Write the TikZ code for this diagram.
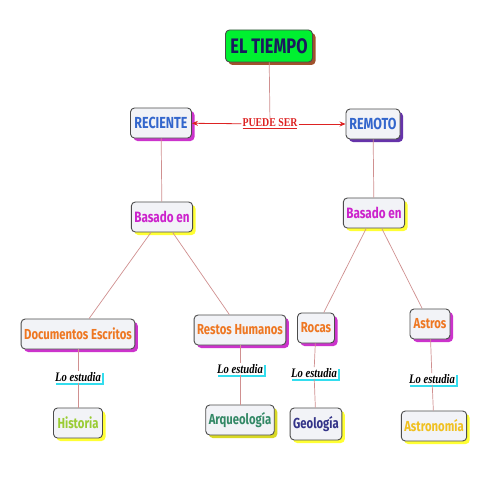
\documentclass[tikz,border=0pt]{standalone}
\usepackage{fontspec}
\setmainfont{Liberation Serif}
\newfontfamily\boxfont{Fira Sans}[FakeStretch=0.78]
\newfontfamily\narrowserif{Liberation Serif}[FakeStretch=0.82]
\usetikzlibrary{shadows,arrows.meta}
\definecolor{conn}{HTML}{D09090}
\definecolor{boxbg}{HTML}{F2F3F7}
\definecolor{tgreen}{HTML}{00F030}
\definecolor{tnavy}{HTML}{1A1A5E}
\definecolor{tblue}{HTML}{3366CC}
\definecolor{tmag}{HTML}{CC22CC}
\definecolor{torange}{HTML}{EE7722}
\definecolor{shmag}{HTML}{CC33CC}
\definecolor{shpur}{HTML}{6633AA}
\definecolor{shyel}{HTML}{FFFF33}
\definecolor{shbrown}{HTML}{A0522D}
\definecolor{thist}{HTML}{99CC33}
\definecolor{tarq}{HTML}{338866}
\definecolor{tgeo}{HTML}{333388}
\definecolor{tast}{HTML}{F0C020}
\definecolor{shcyan}{HTML}{33DDEE}
\definecolor{pred}{HTML}{DD2222}
\tikzset{
  cbox/.style={draw=black!70, line width=0.9pt, rounded corners=4pt, fill=boxbg,
    inner xsep=3pt, minimum height=30pt,
    general shadow={fill=#1, shadow xshift=3pt, shadow yshift=-3pt}},
  bfnt/.style={font=\boxfont\bfseries\fontsize{#1}{#1}\selectfont},
  lbl/.style={fill=white, inner sep=1pt, font=\narrowserif\bfseries\itshape\fontsize{13}{13}\selectfont,
    general shadow={fill=shcyan, shadow xshift=2pt, shadow yshift=-2pt}},
  conline/.style={draw=conn, line width=0.7pt},
  redarrow/.style={draw=pred, line width=0.8pt, -{Stealth[length=6pt,width=5pt]}},
}
\begin{document}
\begin{tikzpicture}[x=1pt,y=-1pt]
\useasboundingbox[fill=white] (0,0) rectangle (495,495);
% nodes
\node[cbox=shbrown, fill=tgreen, text=tnavy, bfnt=21, minimum height=32pt, minimum width=87pt] (tiempo) at (269,46) {EL TIEMPO};
\node[cbox=shmag, text=tblue, bfnt=16, minimum width=61pt] (reciente) at (161,123) {RECIENTE};
\node[cbox=shpur, text=tblue, bfnt=16, minimum width=54pt] (remoto) at (373,124) {REMOTO};
\node[text=pred, font=\narrowserif\bfseries\fontsize{12}{12}\selectfont, inner sep=1pt] (puede) at (270,124) {\underline{PUEDE SER}};
\node[cbox=shyel, text=tmag, bfnt=15, minimum width=57pt] (bas1) at (162,217) {Basado en};
\node[cbox=shyel, text=tmag, bfnt=15, minimum width=58pt] (bas2) at (374,213) {Basado en};
\node[cbox=shmag, text=torange, bfnt=14.5, minimum width=111pt] (doc) at (78,334) {Documentos Escritos};
\node[cbox=shmag, text=torange, bfnt=14.5, minimum width=89pt] (restos) at (240,330) {Restos Humanos};
\node[cbox=shmag, text=torange, bfnt=14.5, minimum width=37pt] (rocas) at (316,328) {Rocas};
\node[cbox=shmag, text=torange, bfnt=14.5, minimum width=40pt] (astros) at (430,324) {Astros};
\node[lbl] (le1) at (78,377) {Lo estudia};
\node[lbl] (le2) at (240,369) {Lo estudia};
\node[lbl] (le3) at (314,373) {Lo estudia};
\node[lbl] (le4) at (432,379) {Lo estudia};
\node[cbox=shyel, text=thist, bfnt=14.5, minimum width=49pt] (hist) at (78,423) {Historia};
\node[cbox=shyel!70!olive, text=tarq, bfnt=14.5, minimum width=65pt] (arq) at (240,420) {Arqueología};
\node[cbox=shyel, text=tgeo, bfnt=14.5, minimum width=48pt, minimum height=32pt] (geo) at (316,424) {Geología};
\node[cbox=shyel, text=tast, bfnt=14.5, minimum width=65pt] (astro) at (434,426) {Astronomía};
% connectors
\draw[conline] (tiempo) -- (puede);
\draw[redarrow] (puede) -- (reciente);
\draw[redarrow] (puede) -- (remoto);
\draw[conline] (reciente) -- (bas1);
\draw[conline] (remoto) -- (bas2);
\draw[conline] (bas1) -- (doc);
\draw[conline] (bas1) -- (restos);
\draw[conline] (bas2) -- (rocas);
\draw[conline] (bas2) -- (astros);
\draw[conline] (doc) -- (le1);
\draw[conline] (le1) -- (hist);
\draw[conline] (restos) -- (le2);
\draw[conline] (le2) -- (arq);
\draw[conline] (rocas) -- (le3);
\draw[conline] (le3) -- (geo);
\draw[conline] (astros) -- (le4);
\draw[conline] (le4) -- (astro);
\end{tikzpicture}
\end{document}
